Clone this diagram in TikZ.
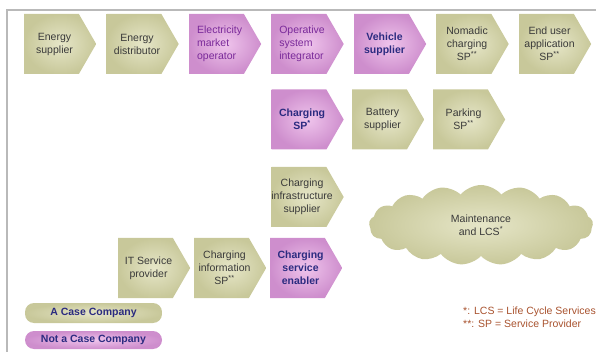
\documentclass[tikz,border=0pt]{standalone}
\usepackage{fontspec}
\setmainfont{Liberation Sans}
\usetikzlibrary{shapes.symbols, positioning}
\definecolor{olivein}{HTML}{E6E6C8}
\definecolor{oliveout}{HTML}{C8C89A}
\definecolor{pinkin}{HTML}{EFC4EC}
\definecolor{pinkout}{HTML}{CE8ECD}
\definecolor{graytext}{HTML}{3A3A3A}
\definecolor{purpletext}{HTML}{7A2A9A}
\definecolor{navytext}{HTML}{2B2B80}
\definecolor{notetext}{HTML}{A8522E}
\tikzset{
  chev/.style = {shape=signal, signal to=east, signal pointer angle=120,
    minimum width=72pt, minimum height=60pt, inner sep=0pt, anchor=west},
  olive/.style = {chev, inner color=olivein, outer color=oliveout},
  pink/.style = {chev, inner color=pinkin, outer color=pinkout},
  boxtext/.style = {font=\fontsize{10.5}{13}\selectfont, align=center, text=graytext, inner sep=0pt},
  pinktext/.style = {boxtext, align=left, text=purpletext},
  boldtext/.style = {boxtext, font=\fontsize{10.5}{13}\selectfont\bfseries, text=navytext},
  pill/.style = {rounded corners=9pt, minimum width=137pt, inner sep=0pt,
    font=\fontsize{10.5}{12}\selectfont\bfseries, text=navytext}
}
\begin{document}
\begin{tikzpicture}[x=1pt, y=-1pt]
\useasboundingbox (0,0) rectangle (596,352);
\draw[gray!55, line width=1.2pt] (7,352) -- (7,10) -- (596,10);

\node[olive] (esup) at (24,44) {};
\node[boxtext] at ([xshift=3pt]esup.center) {Energy\\supplier};
\node[olive] (edis) at (106.5,44) {};
\node[boxtext] at ([xshift=3pt]edis.center) {Energy\\distributor};
\node[pink] (emo) at (189,44) {};
\node[pinktext] at ([xshift=3pt]emo.center) {Electricity\\market\\operator};
\node[pink] (osi) at (271.5,44) {};
\node[pinktext] at ([xshift=3pt]osi.center) {Operative\\system\\integrator};
\node[pink] (vsup) at (354,44) {};
\node[boldtext] at ([xshift=3pt]vsup.center) {Vehicle\\supplier};
\node[olive] (ncsp) at (436.5,44) {};
\node[boxtext] at ([xshift=3pt]ncsp.center) {Nomadic\\charging\\SP\textsuperscript{**}};
\node[olive] (eusp) at (519,44) {};
\node[boxtext] at ([xshift=3pt]eusp.center) {End user\\application\\SP\textsuperscript{**}};

\node[pink] (csp) at (271.5,119.5) {};
\node[boldtext] at ([xshift=3pt]csp.center) {Charging\\SP\textsuperscript{*}};
\node[olive] (bsup) at (352,119.5) {};
\node[boxtext] at ([xshift=3pt]bsup.center) {Battery\\supplier};
\node[olive] (psp) at (433,119.5) {};
\node[boxtext] at ([xshift=3pt]psp.center) {Parking\\SP\textsuperscript{**}};

\node[olive] (cis) at (271.5,197) {};
\node[boxtext] at ([xshift=3pt]cis.center) {Charging\\infrastructure\\supplier};

\node[olive] (itsp) at (118,268) {};
\node[boxtext] at ([xshift=3pt]itsp.center) {IT Service\\provider};
\node[olive] (cinf) at (194,268) {};
\node[boxtext] at ([xshift=3pt]cinf.center) {Charging\\information\\SP\textsuperscript{**}};
\node[pink] (cse) at (270,268) {};
\node[boldtext] at ([xshift=3pt]cse.center) {Charging\\service\\enabler};

\node[cloud, cloud puffs=17, cloud puff arc=100, cloud ignores aspect,
  minimum width=224pt, minimum height=80pt, inner color=olivein, outer color=oliveout,
  boxtext] (mlcs) at (481,225) {Maintenance\\and LCS\textsuperscript{*}};

\node[pill, minimum height=20pt, inner color=olivein, outer color=oliveout] (acase) at (93.5,313) {A Case Company};
\node[pill, minimum height=18pt, inner color=pinkin, outer color=pinkout] (ncase) at (93.5,340) {Not a Case Company};

\node[anchor=west, align=left, inner sep=0pt, text=notetext,
  font=\fontsize{10.5}{13.3}\selectfont] (notes) at (463,317.5) {*: LCS = Life Cycle Services\\**: SP = Service Provider};
\end{tikzpicture}
\end{document}
